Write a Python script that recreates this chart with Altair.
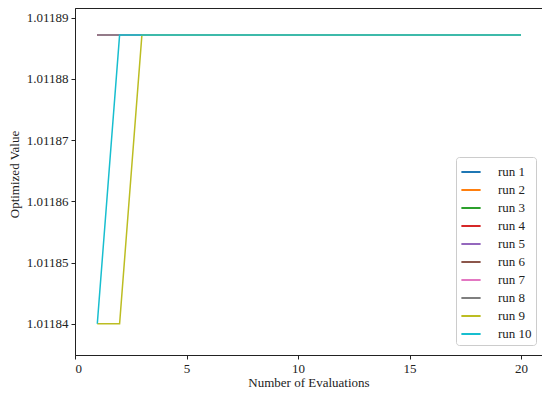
import altair as alt
import pandas as pd

runs = [f"run {i}" for i in range(1, 11)]
colors = ["#1f77b4", "#ff7f0e", "#2ca02c", "#d62728", "#9467bd",
          "#8c564b", "#e377c2", "#7f7f7f", "#bcbd22", "#17becf"]
evaluations = list(range(1, 21))

top = 1.0118872
low = 1.01184
series = {
    "run 1": [top] * 20,
    "run 2": [top] * 20,
    "run 3": [top] * 20,
    "run 4": [top] * 20,
    "run 5": [top] * 20,
    "run 6": [top] * 20,
    "run 7": [top] * 20,
    "run 8": [top] * 20,
    "run 9": [low, low] + [top] * 18,
    "run 10": [low] + [top] * 19,
}
y_ticks = [1.01184, 1.01185, 1.01186, 1.01187, 1.01188, 1.01189]
x_ticks = [0, 5, 10, 15, 20]

rows = []
for r in runs:
    for x, v in zip(evaluations, series[r]):
        rows.append({"run": r, "x": x, "y": v})
df = pd.DataFrame(rows)

FONT = "Liberation Serif"

base = alt.Chart(df).mark_line(strokeWidth=1.5, clip=True).encode(
    x=alt.X("x:Q", scale=alt.Scale(domain=[0, 20.94], nice=False, zero=False),
            axis=alt.Axis(values=x_ticks, title="Number of Evaluations", grid=False,
                          format="d", tickSize=4, labelPadding=3,
                          titleY=31, titleBaseline="alphabetic")),
    y=alt.Y("y:Q", scale=alt.Scale(domain=[1.0118349, 1.0118916], nice=False, zero=False),
            axis=alt.Axis(values=y_ticks, title="Optimized Value", grid=False,
                          format=".5f", tickSize=4, labelPadding=3,
                          titleX=-61, titleY=166, titleAngle=270,
                          titleBaseline="middle", titleAlign="center")),
    color=alt.Color("run:N", scale=alt.Scale(domain=runs, range=colors),
                    legend=alt.Legend(title=None, orient="none", legendX=381, legendY=149,
                                      symbolType="stroke", symbolSize=370,
                                      symbolStrokeWidth=2, labelOffset=16,
                                      strokeColor="#cccccc", fillColor="white",
                                      cornerRadius=3, padding=4, rowPadding=0)),
)

layers = [base.transform_filter(alt.datum.run == r) for r in runs]

chart = alt.layer(*layers).properties(
    width=467, height=347,
    autosize=alt.AutoSizeParams(type="none"),
    padding={"left": 67, "top": 0, "right": 0, "bottom": 33},
).configure_view(
    stroke="#222222", strokeWidth=1
).configure_axis(
    labelFont=FONT, titleFont=FONT, labelFontSize=13, titleFontSize=13,
    titleFontWeight="normal", labelColor="#222222", titleColor="#222222",
    domainColor="#222222", tickColor="#222222", domainWidth=1,
).configure_legend(
    labelFont=FONT, labelFontSize=13, labelColor="#222222"
)

chart.save("out.html", embed_options={"renderer": "svg", "actions": False})
